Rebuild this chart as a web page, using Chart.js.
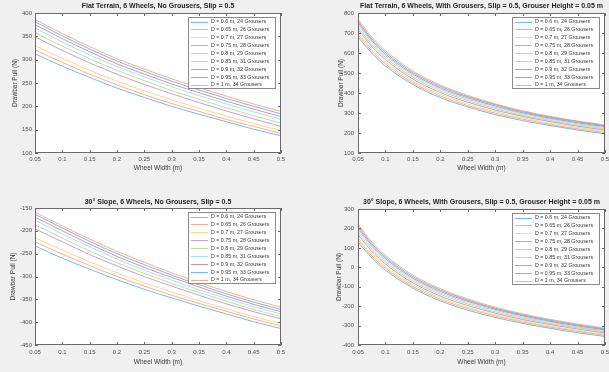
<!DOCTYPE html>
<html><head><meta charset="utf-8">
<script src="https://cdn.jsdelivr.net/npm/chart.js@4.4.1/dist/chart.umd.min.js"></script>
<style>
html,body{margin:0;padding:0;background:#f0f0f0;width:609px;height:372px;overflow:hidden}
canvas{position:absolute}
</style></head><body>
<canvas id="c1" width="304" height="186" style="left:0;top:0"></canvas>
<canvas id="c2" width="305" height="186" style="left:304px;top:0"></canvas>
<canvas id="c3" width="304" height="186" style="left:0;top:186px"></canvas>
<canvas id="c4" width="305" height="186" style="left:304px;top:186px"></canvas>
<script>
// ---- data ----
const wheelWidths = [0.05, 0.075, 0.1, 0.15, 0.2, 0.25, 0.3, 0.35, 0.4, 0.45, 0.5];
const xTickValues = [0.05, 0.1, 0.15, 0.2, 0.25, 0.3, 0.35, 0.4, 0.45, 0.5];
const seriesLabels = [
  'D = 0.6 m, 24 Grousers', 'D = 0.65 m, 26 Grousers', 'D = 0.7 m, 27 Grousers',
  'D = 0.75 m, 28 Grousers', 'D = 0.8 m, 29 Grousers', 'D = 0.85 m, 31 Grousers',
  'D = 0.9 m, 32 Grousers', 'D = 0.95 m, 33 Grousers', 'D = 1 m, 34 Grousers'
];
const seriesColors = [
  'rgba(0,114,189,0.5)', 'rgba(217,83,25,0.45)', 'rgba(237,177,32,0.5)',
  'rgba(126,47,142,0.45)', 'rgba(119,172,48,0.45)', 'rgba(77,190,238,0.5)',
  'rgba(162,20,47,0.45)', 'rgba(0,114,189,0.5)', 'rgba(217,83,25,0.45)'
];
const titles = [
  'Flat Terrain, 6 Wheels, No Grousers, Slip = 0.5',
  'Flat Terrain, 6 Wheels, With Grousers, Slip = 0.5, Grouser Height = 0.05 m',
  '30° Slope, 6 Wheels, No Grousers, Slip = 0.5',
  '30° Slope, 6 Wheels, With Grousers, Slip = 0.5, Grouser Height = 0.05 m'
];
const xAxisTitle = 'Wheel Width (m)';
const yAxisTitle = 'Drawbar Pull (N)';

const yTicksFlatNoG = [100, 150, 200, 250, 300, 350, 400];
const yTicksFlatG = [100, 200, 300, 400, 500, 600, 700, 800];
const yTicksSlopeNoG = [-450, -400, -350, -300, -250, -200, -150];
const yTicksSlopeG = [-400, -300, -200, -100, 0, 100, 200, 300];

// Flat terrain, no grousers (D = 0.6 ... 1)
const flatNoG_D060 = [313, 299, 286, 262, 239, 219, 200, 183, 167, 151, 137];
const flatNoG_D065 = [321, 307, 294, 269, 246, 225, 206, 189, 172, 157, 142];
const flatNoG_D070 = [330, 316, 303, 277, 254, 233, 214, 196, 179, 163, 148];
const flatNoG_D075 = [349, 334, 320, 293, 269, 247, 227, 208, 190, 173, 157];
const flatNoG_D080 = [358, 343, 329, 302, 277, 255, 234, 215, 197, 180, 164];
const flatNoG_D085 = [368, 353, 338, 310, 285, 263, 242, 223, 205, 188, 172];
const flatNoG_D090 = [375, 360, 345, 317, 291, 269, 248, 229, 211, 194, 178];
const flatNoG_D095 = [381, 366, 351, 323, 297, 275, 254, 235, 217, 200, 184];
const flatNoG_D100 = [386, 371, 356, 328, 302, 280, 259, 240, 222, 205, 189];

// Flat terrain, with grousers
const flatG_D060 = [680, 600, 535, 443, 377, 330, 292, 262, 237, 215, 196];
const flatG_D065 = [692, 610, 545, 451, 385, 337, 299, 269, 243, 221, 202];
const flatG_D070 = [703, 620, 555, 460, 393, 345, 307, 276, 250, 228, 209];
const flatG_D075 = [718, 633, 567, 470, 402, 354, 315, 283, 257, 234, 215];
const flatG_D080 = [730, 643, 577, 479, 411, 362, 322, 289, 263, 240, 221];
const flatG_D085 = [742, 654, 587, 488, 419, 369, 329, 296, 269, 246, 227];
const flatG_D090 = [752, 663, 595, 495, 426, 376, 335, 301, 274, 251, 232];
const flatG_D095 = [760, 671, 603, 502, 433, 382, 341, 306, 279, 256, 236];
const flatG_D100 = [770, 680, 612, 510, 440, 388, 346, 311, 283, 260, 240];

// 30 degree slope, no grousers
const slopeNoG_D060 = [-233, -247, -260, -284, -307, -328, -347, -365, -382, -399, -414];
const slopeNoG_D065 = [-224, -238, -251, -276, -300, -321, -341, -359, -376, -393, -408];
const slopeNoG_D070 = [-215, -229, -242, -268, -292, -314, -334, -353, -371, -388, -403];
const slopeNoG_D075 = [-196, -210, -224, -252, -277, -300, -321, -341, -360, -377, -393];
const slopeNoG_D080 = [-187, -201, -216, -244, -270, -293, -315, -335, -354, -372, -388];
const slopeNoG_D085 = [-177, -192, -207, -235, -262, -286, -308, -329, -348, -366, -382];
const slopeNoG_D090 = [-170, -185, -200, -229, -256, -280, -302, -323, -343, -361, -377];
const slopeNoG_D095 = [-164, -179, -194, -223, -250, -274, -297, -318, -338, -356, -372];
const slopeNoG_D100 = [-159, -174, -189, -218, -245, -269, -292, -313, -333, -351, -367];

// 30 degree slope, with grousers
const slopeG_D060 = [130, 49, -15, -107, -173, -221, -258, -289, -314, -337, -356];
const slopeG_D065 = [142, 59, -5, -99, -165, -213, -251, -282, -308, -330, -350];
const slopeG_D070 = [153, 69, 5, -90, -157, -206, -244, -276, -302, -325, -344];
const slopeG_D075 = [168, 83, 17, -80, -148, -197, -236, -269, -295, -318, -338];
const slopeG_D080 = [181, 94, 27, -71, -139, -189, -229, -262, -289, -312, -332];
const slopeG_D085 = [193, 105, 37, -62, -131, -182, -222, -256, -283, -307, -327];
const slopeG_D090 = [203, 114, 45, -55, -124, -175, -216, -250, -278, -302, -322];
const slopeG_D095 = [212, 122, 53, -48, -117, -169, -211, -245, -273, -297, -318];
const slopeG_D100 = [222, 131, 62, -40, -110, -163, -205, -240, -268, -292, -313];

// ---- rendering ----
const FONT = '"Liberation Sans", Arial, sans-serif';

const matlabPlugin = {
  id: 'matlab',
  beforeDraw(chart) {
    const a = chart.chartArea, c = chart.ctx;
    c.save(); c.fillStyle = '#ffffff';
    c.fillRect(a.left, a.top, a.right - a.left, a.bottom - a.top);
    c.restore();
  },
  afterDraw(chart, args, o) {
    const a = chart.chartArea, c = chart.ctx;
    const xs = chart.scales.x, ys = chart.scales.y;
    c.save();
    c.strokeStyle = '#6a6a6a'; c.lineWidth = 1;
    c.strokeRect(Math.round(a.left) + 0.5, Math.round(a.top) + 0.5, Math.round(a.right - a.left) - 1, Math.round(a.bottom - a.top) - 1);
    c.beginPath();
    xs.ticks.forEach(t => {
      const p = Math.round(xs.getPixelForValue(t.value)) + 0.5;
      c.moveTo(p, a.bottom); c.lineTo(p, a.bottom - 3);
      c.moveTo(p, a.top); c.lineTo(p, a.top + 3);
    });
    ys.ticks.forEach(t => {
      const p = Math.round(ys.getPixelForValue(t.value)) + 0.5;
      c.moveTo(a.left, p); c.lineTo(a.left + 3, p);
      c.moveTo(a.right, p); c.lineTo(a.right - 3, p);
    });
    c.stroke();
    // title
    c.fillStyle = '#1e1e1e'; c.textAlign = 'center'; c.textBaseline = 'middle';
    c.font = 'bold 7px ' + FONT;
    c.fillText(o.title, (a.left + a.right) / 2, a.top - o.titleGap);
    // axis titles
    c.fillStyle = '#3a3a3a'; c.font = '6.5px ' + FONT;
    c.fillText(xAxisTitle, (a.left + a.right) / 2, a.bottom + o.xlabGap);
    c.save();
    c.translate(o.ylabX, (a.top + a.bottom) / 2); c.rotate(-Math.PI / 2);
    c.fillText(yAxisTitle, 0, 0);
    c.restore();
    // legend
    const lw = 88, lh = 72, lx = Math.round(a.right - 5 - lw), ly = Math.round(a.top + 4);
    c.fillStyle = '#ffffff'; c.fillRect(lx, ly, lw, lh);
    c.strokeStyle = '#8a8a8a'; c.strokeRect(lx + 0.5, ly + 0.5, lw - 1, lh - 1);
    c.textAlign = 'left'; c.font = '5.3px ' + FONT; c.fillStyle = '#3a3a3a';
    chart.data.datasets.forEach((ds, i) => {
      const y = ly + 4.5 + i * 7.9;
      c.strokeStyle = ds.borderColor; c.beginPath();
      c.moveTo(lx + 3, Math.round(y) + 0.5); c.lineTo(lx + 20, Math.round(y) + 0.5); c.stroke();
      c.fillText(ds.label, lx + 23, y + 0.3);
    });
    c.restore();
  }
};

function makeChart(id, series, yTicks, cfg) {
  const datasets = series.map((vals, i) => ({
    label: seriesLabels[i],
    data: wheelWidths.map((w, k) => ({ x: w, y: vals[k] })),
    borderColor: seriesColors[i],
    borderWidth: 1,
    pointRadius: 0,
    fill: false,
    cubicInterpolationMode: 'monotone'
  }));
  const fixX = s => { s.height = cfg.xh; s.paddingLeft = 0; s.paddingRight = 0; };
  const fixY = s => { s.width = cfg.yw; s.paddingTop = 0; s.paddingBottom = 0; };
  new Chart(document.getElementById(id), {
    type: 'line',
    data: { datasets },
    options: {
      responsive: false, animation: false, devicePixelRatio: 1,
      layout: { padding: { left: 0, top: cfg.top, right: cfg.right, bottom: 0 } },
      plugins: {
        legend: { display: false }, tooltip: { enabled: false },
        matlab: { title: cfg.title, titleGap: cfg.titleGap, xlabGap: cfg.xlabGap, ylabX: cfg.ylabX }
      },
      scales: {
        x: {
          type: 'linear', min: 0.05, max: 0.5,
          grid: { display: false, drawTicks: false }, border: { display: false },
          afterBuildTicks: s => { s.ticks = xTickValues.map(v => ({ value: v })); },
          afterFit: fixX,
          ticks: { autoSkip: false, maxRotation: 0, padding: cfg.xtickPad, color: '#505050',
                   font: { family: FONT, size: 6 }, callback: v => String(+v.toFixed(2)) }
        },
        y: {
          type: 'linear', min: yTicks[0], max: yTicks[yTicks.length - 1],
          grid: { display: false, drawTicks: false }, border: { display: false },
          afterBuildTicks: s => { s.ticks = yTicks.map(v => ({ value: v })); },
          afterFit: fixY,
          ticks: { autoSkip: false, padding: cfg.ytickPad, color: '#505050',
                   font: { family: FONT, size: 6 }, callback: v => String(v) }
        }
      }
    },
    plugins: [matlabPlugin]
  });
}

makeChart('c1',
  [flatNoG_D060, flatNoG_D065, flatNoG_D070, flatNoG_D075, flatNoG_D080, flatNoG_D085, flatNoG_D090, flatNoG_D095, flatNoG_D100],
  yTicksFlatNoG,
  { title: titles[0], top: 13, right: 23, yw: 35, xh: 33, titleGap: 7, xlabGap: 15.5, ylabX: 15, xtickPad: 3, ytickPad: 3 });
makeChart('c2',
  [flatG_D060, flatG_D065, flatG_D070, flatG_D075, flatG_D080, flatG_D085, flatG_D090, flatG_D095, flatG_D100],
  yTicksFlatG,
  { title: titles[1], top: 13, right: 4, yw: 54, xh: 33, titleGap: 6.5, xlabGap: 15.5, ylabX: 37, xtickPad: 3, ytickPad: 4 });
makeChart('c3',
  [slopeNoG_D060, slopeNoG_D065, slopeNoG_D070, slopeNoG_D075, slopeNoG_D080, slopeNoG_D085, slopeNoG_D090, slopeNoG_D095, slopeNoG_D100],
  yTicksSlopeNoG,
  { title: titles[2], top: 22, right: 23, yw: 35, xh: 27, titleGap: 6, xlabGap: 17, ylabX: 13, xtickPad: 4, ytickPad: 3 });
makeChart('c4',
  [slopeG_D060, slopeG_D065, slopeG_D070, slopeG_D075, slopeG_D080, slopeG_D085, slopeG_D090, slopeG_D095, slopeG_D100],
  yTicksSlopeG,
  { title: titles[3], top: 23, right: 4, yw: 54, xh: 27, titleGap: 7, xlabGap: 17, ylabX: 35, xtickPad: 4, ytickPad: 4 });
</script>
</body></html>
